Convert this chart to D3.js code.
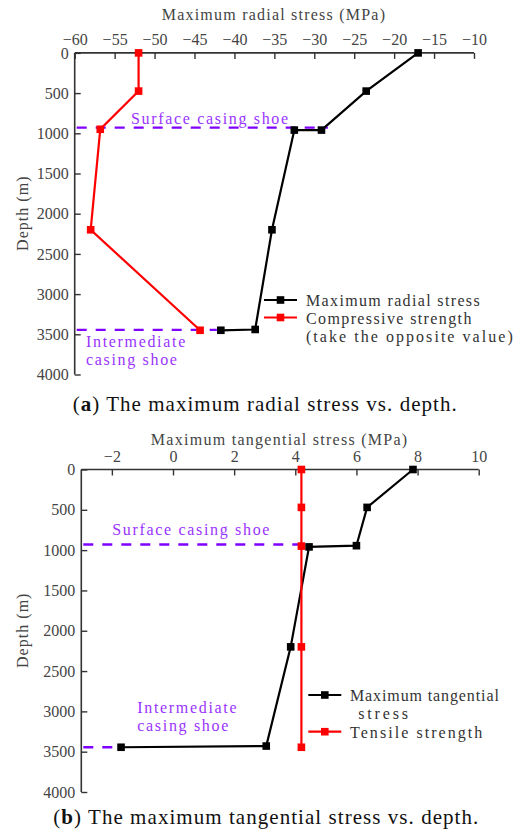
<!DOCTYPE html>
<html>
<head>
<meta charset="utf-8">
<script src="https://cdn.jsdelivr.net/npm/d3@7"></script>
<style>
  html, body { margin: 0; padding: 0; background: #fff; }
  svg { display: block; }
  svg text { font-family: "Liberation Serif", "Times New Roman", serif; }
</style>
</head>
<body>
<svg id="chart" width="513" height="834"></svg>
<script>
// ---- Panel (a): maximum radial stress ----
const radialDepths = [0, 475, 960, 960, 2200, 3440, 3450];
const radialStress = [-17, -23.5, -29.1, -32.5, -35.3, -37.4, -41.7];
const compressiveDepths = [0, 475, 950, 2200, 3450];
const compressiveStrength = [-52, -52, -56.8, -58, -44.3];
const radialTicks = [-60, -55, -50, -45, -40, -35, -30, -25, -20, -15, -10];

// ---- Panel (b): maximum tangential stress ----
const tangentialDepths = [0, 470, 945, 960, 2200, 3430, 3445];
const tangentialStress = [7.85, 6.35, 6.0, 4.45, 3.85, 3.05, -1.7];
const tensileDepths = [0, 470, 950, 2200, 3445];
const tensileStrength = [4.2, 4.2, 4.2, 4.2, 4.2];
const tangentialTicks = [-2, 0, 2, 4, 6, 8, 10];

// ---- Shared ----
const depthTicks = [0, 500, 1000, 1500, 2000, 2500, 3000, 3500, 4000];
const surfaceShoeDepth = 930;
const intermediateShoeDepth = 3445;

const svg = d3.select("#chart");
const SERIF = '"Liberation Serif", "Times New Roman", serif';
const CHAR_W = 8.27; // the annotation font advances a fixed width per character

function monoText(g, str, x, y, opts = {}) {
  const t = g.append("text")
    .attr("x", x).attr("y", y)
    .style("font-family", SERIF)
    .style("font-size", (opts.size || 16) + "px")
    .attr("fill", opts.fill || "#333")
    .attr("text-anchor", opts.anchor || "start")
    .attr("textLength", str.length * CHAR_W)
    .attr("lengthAdjust", "spacing")
    .text(str);
  if (opts.rotate) t.attr("transform", `rotate(${opts.rotate},${x},${y})`);
  return t;
}

function drawPanel(p) {
  const g = svg.append("g");
  const x = d3.scaleLinear().domain(p.xDomain).range([p.left, p.right]);
  const y = d3.scaleLinear().domain([0, 4000]).range([p.top, p.bottom]);

  // axes (ticks pointing inward)
  const xAxis = g.append("g").attr("transform", `translate(0,${p.top})`)
    .call(d3.axisTop(x).tickValues(p.xTicks).tickSizeInner(-6).tickSizeOuter(0).tickPadding(8)
      .tickFormat(d => d < 0 ? "\u2212" + Math.abs(d) : String(d)));
  const yAxis = g.append("g").attr("transform", `translate(${p.left},0)`)
    .call(d3.axisLeft(y).tickValues(depthTicks).tickSizeInner(-6).tickSizeOuter(0).tickPadding(6)
      .tickFormat(d => String(d)));
  [xAxis, yAxis].forEach(a => {
    a.attr("font-family", null).attr("font-size", null);
    a.select(".domain").attr("stroke", "#333").attr("stroke-width", 1.6);
    a.selectAll(".tick line").attr("stroke", "#333").attr("stroke-width", 1.4);
    a.selectAll(".tick text").style("font-family", SERIF)
      .style("font-size", "16px").attr("fill", "#444");
  });
  yAxis.select(".domain").attr("d", `M0,${p.top}V${p.bottom}`);
  xAxis.select(".domain").attr("d", `M${p.left},0H${p.right}`);

  // axis titles
  monoText(g, p.xTitle, (p.left + p.right) / 2 - 1, p.xTitleY, { anchor: "middle", fill: "#444" });
  monoText(g, "Depth (m)", 28, (p.top + p.bottom) / 2, { anchor: "middle", fill: "#444", rotate: -90 });

  // casing shoe markers
  const dash = "10,9";
  g.append("line")
    .attr("x1", p.left + 2).attr("x2", x(p.surfaceEnd))
    .attr("y1", y(surfaceShoeDepth)).attr("y2", y(surfaceShoeDepth))
    .attr("stroke", "#7f00ff").attr("stroke-width", 2.4).attr("stroke-dasharray", dash);
  g.append("line")
    .attr("x1", p.left + 2).attr("x2", x(p.intermediateEnd))
    .attr("y1", y(intermediateShoeDepth)).attr("y2", y(intermediateShoeDepth))
    .attr("stroke", "#7f00ff").attr("stroke-width", 2.4).attr("stroke-dasharray", dash);

  const purple = "#9a33ff";
  monoText(g, "Surface casing shoe", p.surfaceLabel[0], p.surfaceLabel[1], { fill: purple });
  monoText(g, "Intermediate", p.interLabel[0], p.interLabel[1], { fill: purple });
  monoText(g, "casing shoe", p.interLabel[0], p.interLabel[1] + 18, { fill: purple });

  // series
  const line = d3.line().x(d => x(d.v)).y(d => y(d.depth));
  p.series.forEach(s => {
    const pts = s.values.map((v, i) => ({ v, depth: s.depths[i] }));
    g.append("path").datum(pts)
      .attr("d", line).attr("fill", "none")
      .attr("stroke", s.color).attr("stroke-width", 2.2);
    g.selectAll(null).data(pts).enter().append("rect")
      .attr("x", d => x(d.v) - 3.8).attr("y", d => y(d.depth) - 3.8)
      .attr("width", 7.6).attr("height", 7.6)
      .attr("fill", s.color);
  });

  // legend
  p.legend.forEach(item => {
    g.append("line")
      .attr("x1", item.x0).attr("x2", item.x0 + 33)
      .attr("y1", item.cy).attr("y2", item.cy)
      .attr("stroke", item.color).attr("stroke-width", 2.2);
    g.append("rect")
      .attr("x", item.x0 + 16.5 - 3.8).attr("y", item.cy - 3.8)
      .attr("width", 7.6).attr("height", 7.6).attr("fill", item.color);
    item.lines.forEach((ln, i) => {
      monoText(g, ln.text, ln.x, item.cy + 6 + i * 18.3, { fill: "#333" });
    });
  });

  // caption
  const cap = g.append("text")
    .attr("x", p.captionX).attr("y", p.captionY)
    .style("font-family", SERIF)
    .style("font-size", "21px").attr("fill", "#111")
    .attr("textLength", p.captionLen).attr("lengthAdjust", "spacing");
  cap.append("tspan").text("(");
  cap.append("tspan").attr("font-weight", "bold").text(p.captionLetter);
  cap.append("tspan").text(") " + p.captionText);
}

drawPanel({
  xDomain: [-60, -10], xTicks: radialTicks,
  left: 74.7, right: 474, top: 52.9, bottom: 374.5,
  xTitle: "Maximum radial stress (MPa)", xTitleY: 20,
  surfaceEnd: -28.3, intermediateEnd: -42.2,
  surfaceLabel: [131, 124], interLabel: [86, 347.3],
  series: [
    { depths: radialDepths, values: radialStress, color: "#000" },
    { depths: compressiveDepths, values: compressiveStrength, color: "#ff0000" }
  ],
  legend: [
    { x0: 264, cy: 300, color: "#000", lines: [{ text: "Maximum radial stress", x: 306 }] },
    { x0: 264, cy: 317.5, color: "#ff0000", lines: [
      { text: "Compressive strength", x: 306 },
      { text: "(take the opposite value)", x: 306 }
    ] }
  ],
  captionX: 72.7, captionY: 411, captionLen: 384,
  captionLetter: "a", captionText: "The maximum radial stress vs. depth."
});

drawPanel({
  xDomain: [-3, 10], xTicks: tangentialTicks,
  left: 81.3, right: 478.7, top: 469.5, bottom: 792,
  xTitle: "Maximum tangential stress (MPa)", xTitleY: 445,
  surfaceEnd: 4.2, intermediateEnd: -1.7,
  surfaceLabel: [112.3, 535], interLabel: [137.3, 713.3],
  series: [
    { depths: tangentialDepths, values: tangentialStress, color: "#000" },
    { depths: tensileDepths, values: tensileStrength, color: "#ff0000" }
  ],
  legend: [
    { x0: 308.3, cy: 695, color: "#000", lines: [
      { text: "Maximum tangential", x: 350 },
      { text: "stress", x: 358.3 }
    ] },
    { x0: 308.3, cy: 731.7, color: "#ff0000", lines: [{ text: "Tensile strength", x: 350 }] }
  ],
  captionX: 53.3, captionY: 823.5, captionLen: 425,
  captionLetter: "b", captionText: "The maximum tangential stress vs. depth."
});
</script>
</body>
</html>
